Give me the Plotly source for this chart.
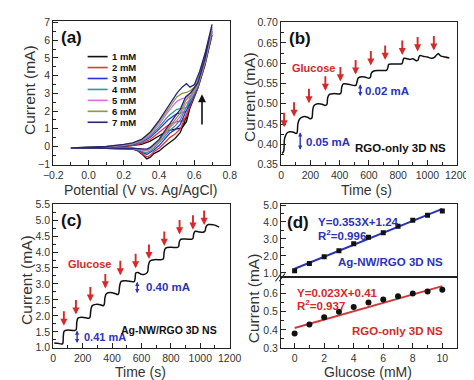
import plotly.graph_objects as go

W, H = 474, 380
FN = "Liberation Sans Narrow, Arial Narrow, Arial, sans-serif"
FR = "Arial, Liberation Sans, sans-serif"
RED = "#d42a2a"
BLUE = "#2b33b8"

# ---------------- (a) cyclic voltammograms ----------------
cv_labels = ["1 mM", "2 mM", "3 mM", "4 mM", "5 mM", "6 mM", "7 mM"]
cv_colors = ["#111111", "#e8323c", "#2535d8", "#2a9d8f", "#d86ee8", "#8b9b3a", "#262676"]
fwd_potential = [-0.10, 0.00, 0.10, 0.20, 0.25, 0.30, 0.35, 0.40, 0.45, 0.50, 0.53, 0.555, 0.575, 0.60, 0.63, 0.66, 0.70]
rev_potential = [0.70, 0.66, 0.62, 0.58, 0.55, 0.52, 0.49, 0.46, 0.43, 0.40, 0.37, 0.35, 0.33, 0.31, 0.28, 0.25, 0.20, 0.10, 0.00, -0.10]
fwd_current = [
    [-0.08, -0.07, -0.05, 0.00, 0.04, 0.12, 0.30, 0.60, 0.90, 1.00, 1.05, 1.40, 2.20, 3.00, 3.90, 4.90, 6.30],
    [-0.08, -0.07, -0.05, 0.02, 0.07, 0.18, 0.40, 0.80, 1.20, 1.40, 1.45, 1.70, 2.40, 3.05, 3.95, 4.95, 6.40],
    [-0.08, -0.06, -0.04, 0.04, 0.10, 0.24, 0.52, 0.98, 1.50, 1.85, 1.90, 2.00, 2.60, 3.10, 4.00, 5.00, 6.50],
    [-0.08, -0.06, -0.03, 0.06, 0.13, 0.28, 0.60, 1.10, 1.70, 2.10, 2.15, 2.20, 2.75, 3.15, 4.05, 5.05, 6.55],
    [-0.08, -0.06, -0.02, 0.08, 0.16, 0.32, 0.68, 1.25, 1.95, 2.55, 2.70, 2.75, 2.95, 3.25, 4.10, 5.10, 6.65],
    [-0.08, -0.05, -0.01, 0.10, 0.18, 0.36, 0.76, 1.38, 2.12, 2.80, 3.00, 3.05, 3.15, 3.35, 4.15, 5.15, 6.75],
    [-0.08, -0.05, 0.00, 0.12, 0.21, 0.40, 0.82, 1.48, 2.25, 3.00, 3.35, 3.55, 3.35, 3.50, 4.25, 5.25, 6.90],
]
rev_current = [
    [6.30, 4.60, 3.30, 2.30, 1.55, 0.80, 0.45, 0.25, 0.00, -0.25, -0.40, -0.60, -0.70, -0.50, -0.25, -0.15, -0.12, -0.10, -0.10, -0.09],
    [6.40, 4.65, 3.35, 2.40, 1.75, 1.00, 0.70, 0.50, 0.20, -0.10, -0.30, -0.50, -0.60, -0.45, -0.22, -0.14, -0.12, -0.10, -0.10, -0.09],
    [6.50, 4.70, 3.40, 2.50, 1.95, 1.25, 0.95, 0.75, 0.40, 0.05, -0.20, -0.35, -0.45, -0.36, -0.20, -0.13, -0.11, -0.10, -0.10, -0.09],
    [6.55, 4.75, 3.45, 2.60, 2.15, 1.50, 1.15, 0.90, 0.55, 0.20, -0.10, -0.25, -0.35, -0.30, -0.18, -0.12, -0.11, -0.10, -0.10, -0.09],
    [6.65, 4.80, 3.50, 2.75, 2.40, 1.70, 1.35, 1.05, 0.65, 0.30, 0.00, -0.15, -0.25, -0.22, -0.15, -0.11, -0.10, -0.10, -0.10, -0.09],
    [6.75, 4.85, 3.55, 2.90, 2.60, 1.90, 1.50, 1.15, 0.75, 0.35, 0.05, -0.10, -0.20, -0.18, -0.13, -0.10, -0.10, -0.10, -0.10, -0.09],
    [6.90, 4.95, 3.60, 3.05, 2.80, 2.10, 1.70, 1.30, 0.85, 0.40, 0.10, -0.05, -0.15, -0.15, -0.12, -0.10, -0.10, -0.10, -0.10, -0.09],
]

# ---------------- (b) RGO-only amperometry ----------------
time_b = [5, 12, 18, 22, 28, 40, 60, 85, 100, 108, 114, 125, 150, 180, 200, 210, 216, 225, 250, 280,
          300, 312, 318, 330, 360, 395, 408, 414, 425, 460, 500, 512, 520, 526, 540, 570, 600, 610, 616, 630,
          660, 700, 722, 730, 736, 760, 800, 826, 834, 840, 860, 880, 900, 925, 935, 942, 950, 970, 1000, 1030,
          1050, 1062, 1075, 1090, 1120, 1150]
current_b = [0.378, 0.380, 0.385, 0.412, 0.420, 0.428, 0.431, 0.430, 0.427, 0.428, 0.450, 0.462, 0.468, 0.467, 0.463, 0.465, 0.485, 0.496, 0.500, 0.499,
             0.496, 0.498, 0.515, 0.523, 0.525, 0.524, 0.526, 0.541, 0.549, 0.548, 0.545, 0.546, 0.556, 0.563, 0.566, 0.566, 0.563, 0.565, 0.575, 0.580,
             0.582, 0.582, 0.583, 0.590, 0.597, 0.598, 0.598, 0.599, 0.608, 0.612, 0.611, 0.609, 0.611, 0.606, 0.607, 0.615, 0.619, 0.617, 0.615, 0.612,
             0.615, 0.620, 0.623, 0.618, 0.615, 0.613]
arrow_t_b = [20, 88, 190, 302, 405, 509, 613, 711, 828, 933, 1044]
arrow_i_b = [0.442, 0.468, 0.501, 0.532, 0.555, 0.572, 0.594, 0.608, 0.620, 0.629, 0.631]

# ---------------- (c) Ag-NW/RGO amperometry ----------------
time_c = [6, 30, 55, 64, 68, 74, 90, 120, 145, 155, 160, 168, 190, 220, 245, 250, 256, 265, 290, 320,
          340, 346, 352, 362, 390, 420, 440, 446, 452, 462, 490, 530, 550, 556, 562, 575, 600, 620, 640, 648,
          658, 690, 730, 748, 754, 764, 800, 840, 852, 858, 868, 900, 940, 950, 956, 966, 990, 1020, 1032, 1040,
          1055, 1090, 1110, 1128]
current_c = [1.15, 1.14, 1.12, 1.13, 1.35, 1.52, 1.55, 1.55, 1.54, 1.56, 1.80, 1.93, 1.96, 1.94, 1.93, 1.96, 2.20, 2.32, 2.36, 2.35,
             2.32, 2.35, 2.58, 2.70, 2.73, 2.70, 2.67, 2.72, 2.95, 3.08, 3.10, 3.08, 3.07, 3.15, 3.35, 3.36, 3.30, 3.30, 3.36, 3.60,
             3.72, 3.76, 3.76, 3.78, 4.00, 4.12, 4.15, 4.14, 4.17, 4.33, 4.40, 4.41, 4.40, 4.43, 4.58, 4.65, 4.63, 4.62, 4.66, 4.80,
             4.86, 4.85, 4.82, 4.78]
arrow_t_c = [72, 154, 252, 354, 456, 560, 651, 755, 859, 950, 1026]
arrow_i_c = [1.69, 2.04, 2.45, 2.86, 3.27, 3.49, 3.78, 4.19, 4.55, 4.70, 4.85]

# ---------------- (d) calibration ----------------
glucose_mM = [0, 1, 2, 3, 4, 5, 6, 7, 8, 9, 10]
current_agnw = [1.13, 1.55, 1.95, 2.30, 2.72, 3.10, 3.37, 3.75, 4.10, 4.40, 4.65]
current_rgo = [0.38, 0.43, 0.47, 0.50, 0.525, 0.55, 0.567, 0.585, 0.60, 0.61, 0.62]
fit_agnw = (0.353, 1.24)
fit_rgo = (0.023, 0.41)
fit_x = [0, 10]

fig = go.Figure()

for lab, col, fi, ri in zip(cv_labels, cv_colors, fwd_current, rev_current):
    fig.add_trace(go.Scatter(x=fwd_potential + rev_potential, y=fi + ri, mode="lines",
                             line=dict(color=col, width=1.3), name=lab, xaxis="x", yaxis="y"))

fig.add_trace(go.Scatter(x=time_b, y=current_b, mode="lines", line=dict(color="#111", width=1.5),
                         xaxis="x2", yaxis="y2", line_shape="spline"))
fig.add_trace(go.Scatter(x=time_c, y=current_c, mode="lines", line=dict(color="#111", width=1.5),
                         xaxis="x3", yaxis="y3", line_shape="spline"))

fig.add_trace(go.Scatter(x=fit_x, y=[fit_agnw[0] * v + fit_agnw[1] for v in fit_x], mode="lines",
                         line=dict(color="#2a34b5", width=2), xaxis="x4", yaxis="y4"))
fig.add_trace(go.Scatter(x=glucose_mM, y=current_agnw, mode="markers",
                         marker=dict(symbol="square", size=5, color="#111"), xaxis="x4", yaxis="y4"))
fig.add_trace(go.Scatter(x=fit_x, y=[fit_rgo[0] * v + fit_rgo[1] for v in fit_x], mode="lines",
                         line=dict(color="#d23a3a", width=2), xaxis="x5", yaxis="y5"))
fig.add_trace(go.Scatter(x=glucose_mM, y=current_rgo, mode="markers",
                         marker=dict(symbol="circle", size=6, color="#111"), xaxis="x5", yaxis="y5"))


def xd(a, b):
    return [a / W, b / W]


def yd(top, bottom):
    return [1 - bottom / H, 1 - top / H]


def axis(rng, dom, anchor, dtick=None, tick0=None, minor=None, fmt=None, labels=True, tickvals=None):
    d = dict(range=rng, domain=dom, anchor=anchor, showline=True, linecolor="#222", linewidth=1.3,
             mirror=True, ticks="inside", ticklen=5, tickwidth=1.1, tickcolor="#222", showgrid=False,
             zeroline=False, showticklabels=labels,
             tickfont=dict(family=FN, size=10.5, color="#333"))
    if tickvals is not None:
        d.update(tickmode="array", tickvals=tickvals)
    elif dtick is not None:
        d.update(tickmode="linear", dtick=dtick, tick0=tick0 if tick0 is not None else 0)
    if fmt:
        d["tickformat"] = fmt
    if minor:
        d["minor"] = dict(ticks="inside", ticklen=3, tickwidth=1, tickcolor="#222", dtick=minor,
                          tick0=tick0 if tick0 is not None else 0, showgrid=False)
    return d


fig.update_layout(
    width=W, height=H, margin=dict(l=0, r=0, t=0, b=0),
    paper_bgcolor="white", plot_bgcolor="white", showlegend=False,
    xaxis=axis([-0.2, 0.8], xd(37, 222), "y", 0.2, -0.2, 0.1, ".1f"),
    yaxis=axis([-1.05, 7.1], yd(7, 156), "x", 1, 0, 0.5),
    xaxis2=axis([0, 1200], xd(276, 460), "y2", 200, 0, 100),
    yaxis2=axis([0.349, 0.702], yd(8, 156), "x2", 0.05, 0, 0.025, ".2f"),
    xaxis3=axis([0, 1200], xd(37, 222), "y3", 200, 0, 100),
    yaxis3=axis([0.99, 5.51], yd(196, 345), "x3", 0.5, 0, 0.25, ".1f"),
    xaxis4=dict(range=[-0.91, 10.97], domain=xd(276, 460), anchor="y4", showline=True, linecolor="#222",
                linewidth=1.3, mirror=True, ticks="", showticklabels=False, showgrid=False, zeroline=False),
    yaxis4=axis([0.73, 5.07], yd(196, 272), "x4", tickvals=[1, 2, 3, 4, 5], fmt=".1f", minor=0.5),
    xaxis5=axis([-0.91, 10.97], xd(276, 460), "y5", 2, 0, 1),
    yaxis5=axis([0.3, 0.688], yd(272, 345), "x5", tickvals=[0.3, 0.4, 0.5, 0.6], fmt=".1f", minor=0.05),
)

ann = []


def P(x, y):
    return x / W, 1 - y / H


def txt(x, y, s, size=11.5, color="#111", bold=True, xanchor="left", family=FN, angle=0):
    px, py = P(x, y)
    ann.append(dict(x=px, y=py, xref="paper", yref="paper", text=f"<b>{s}</b>" if bold else s,
                    showarrow=False, xanchor=xanchor, yanchor="middle", textangle=angle,
                    font=dict(family=family, size=size, color=color)))


# axis titles
txt(128, 182, "Potential (V vs. Ag/AgCl)", 14, "#333", False, "center")
txt(365, 182, "Time (s)", 14, "#333", False, "center")
txt(128, 370, "Time (s)", 14, "#333", False, "center")
txt(367, 370, "Glucose (mM)", 14, "#333", False, "center")
txt(12, 78, "Current (mA)", 15.5, "#333", False, "center", FR, -90)
txt(243, 86, "Current (mA)", 15.5, "#333", False, "center", FR, -90)
txt(9, 275, "Current (mA)", 15.5, "#333", False, "center", FR, -90)
txt(247, 294, "Current (mA)", 15.5, "#333", False, "center", FR, -90)

# panel labels
txt(43, 24, "(a)", 17)
txt(282, 25, "(b)", 17)
txt(43, 213, "(c)", 17)
txt(280, 215, "(d)", 17)

# legend of (a)
for k, (lab, col) in enumerate(zip(cv_labels, cv_colors)):
    yy = 44 + k * 11.3
    x0, y0 = P(73, yy)
    x1, _ = P(94, yy)
    fig.add_shape(type="line", xref="paper", yref="paper", x0=x0, x1=x1, y0=y0, y1=y0,
                  line=dict(color=col, width=1.6))
    txt(97, yy, lab, 9.5)

# arrow in (a)
ann.append(dict(x=0.643, y=2.95, ax=0.643, ay=1.16, xref="x", yref="y", axref="x", ayref="y",
                showarrow=True, arrowhead=2, arrowsize=1, arrowwidth=1.6, arrowcolor="#111", text=""))

# red glucose arrows
for t, i in zip(arrow_t_b, arrow_i_b):
    ann.append(dict(x=t, y=i, xref="x2", yref="y2", ax=0, ay=-16, showarrow=True, arrowhead=2,
                    arrowsize=0.75, arrowwidth=1.9, arrowcolor=RED, text=""))
for t, i in zip(arrow_t_c, arrow_i_c):
    ann.append(dict(x=t, y=i, xref="x3", yref="y3", ax=0, ay=-16, showarrow=True, arrowhead=2,
                    arrowsize=0.75, arrowwidth=1.9, arrowcolor=RED, text=""))


# blue double arrows
def darrow(xr, yr, xv, y0, y1):
    ann.append(dict(x=xv, y=y1, ax=xv, ay=y0, xref=xr, yref=yr, axref=xr, ayref=yr, showarrow=True,
                    arrowhead=2, startarrowhead=2, arrowside="end+start", arrowsize=0.6,
                    startarrowsize=0.6, arrowwidth=1.4, arrowcolor=BLUE, text=""))


darrow("x2", "y2", 130, 0.383, 0.430)
darrow("x2", "y2", 541, 0.515, 0.548)
darrow("x3", "y3", 162, 1.10, 1.54)
darrow("x3", "y3", 571, 2.66, 3.07)

# texts (b)
txt(310, 56, "Glucose", 11, RED, True, "center")
txt(300, 132, "0.05 mA", 11.5, BLUE)
txt(362, 80, "0.02 mA", 11.5, BLUE)
txt(451, 138, "RGO-only 3D NS", 11.5, "#111", True, "right")
# texts (c)
txt(75, 258, "Glucose", 11, RED, True, "center")
txt(67, 334, "0.41 mA", 11, BLUE)
txt(132, 282, "0.40 mA", 11.5, BLUE)
txt(211, 326, "Ag-NW/RGO 3D NS", 10.5, "#111", True, "right")
# texts (d)
txt(313, 215, "Y=0.353X+1.24", 11.5, BLUE)
txt(313, 228, "R<sup>2</sup>=0.996", 11.5, BLUE)
txt(448, 256, "Ag-NW/RGO 3D NS", 11.5, BLUE, True, "right")
txt(290, 288, "Y=0.023X+0.41", 11.5, RED)
txt(290, 300, "R<sup>2</sup>=0.937", 11.5, RED)
txt(448, 327, "RGO-only 3D NS", 11.5, RED, True, "right")

# axis break marks on (d)
for dx in (0, 4):
    a0, b0 = P(270 + dx, 276)
    a1, b1 = P(276 + dx, 268)
    fig.add_shape(type="line", xref="paper", yref="paper", x0=a0, y0=b0, x1=a1, y1=b1,
                  line=dict(color="#222", width=1.1))

fig.update_layout(annotations=ann)
fig.write_html("out.html")
